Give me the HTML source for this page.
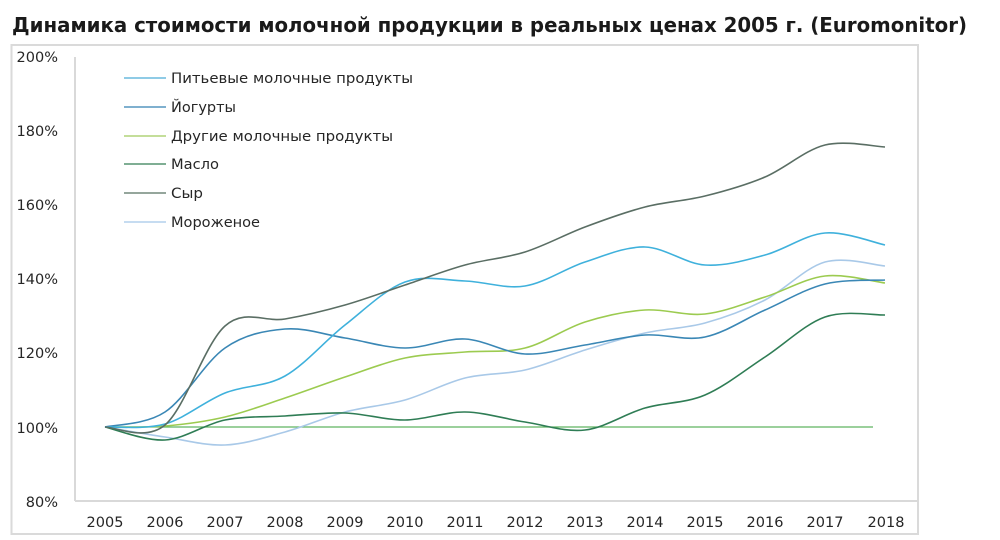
<!DOCTYPE html>
<html>
<head>
<meta charset="utf-8">
<style>
html,body{margin:0;padding:0;background:#fff;}
svg{display:block;}
text{font-family:"DejaVu Sans","Liberation Sans",sans-serif;}
</style>
</head>
<body>
<svg id="c" width="1000" height="540" viewBox="0 0 1000 540" xmlns="http://www.w3.org/2000/svg">
<rect width="1000" height="540" fill="#fff"/>
<text x="12" y="32" font-size="20" font-weight="bold" fill="#1a1a1a" textLength="955" lengthAdjust="spacingAndGlyphs">Динамика стоимости молочной продукции в реальных ценах 2005 г. (Euromonitor)</text>
<rect x="11.5" y="45" width="906.5" height="489" fill="none" stroke="#dadada" stroke-width="2"/>
<line x1="75" y1="57" x2="75" y2="501" stroke="#d9d9d9" stroke-width="2"/>
<line x1="75" y1="501" x2="918" y2="501" stroke="#d9d9d9" stroke-width="2"/>
<g font-size="14.5" fill="#262626" text-anchor="end">
<text x="58" y="62">200%</text>
<text x="58" y="136">180%</text>
<text x="58" y="210">160%</text>
<text x="58" y="284">140%</text>
<text x="58" y="358">120%</text>
<text x="58" y="433">100%</text>
<text x="58" y="507">80%</text>
</g>
<g font-size="14.5" fill="#262626" text-anchor="middle">
<text x="105" y="527">2005</text><text x="165" y="527">2006</text><text x="225" y="527">2007</text><text x="285" y="527">2008</text><text x="345" y="527">2009</text><text x="405" y="527">2010</text><text x="465" y="527">2011</text><text x="525" y="527">2012</text><text x="585" y="527">2013</text><text x="645" y="527">2014</text><text x="705" y="527">2015</text><text x="765" y="527">2016</text><text x="825" y="527">2017</text><text x="886" y="527">2018</text>
</g>
<g stroke-width="2">
<line x1="124" y1="78" x2="166" y2="78" stroke="#8fcbe6"/>
<line x1="124" y1="107" x2="166" y2="107" stroke="#7fb0cf"/>
<line x1="124" y1="136" x2="166" y2="136" stroke="#c4de9a"/>
<line x1="124" y1="164" x2="166" y2="164" stroke="#7fae94"/>
<line x1="124" y1="193" x2="166" y2="193" stroke="#95a69c"/>
<line x1="124" y1="222" x2="166" y2="222" stroke="#c6dcf1"/>
</g>
<g font-size="14" fill="#262626">
<text x="171" y="83" textLength="242" lengthAdjust="spacingAndGlyphs">Питьевые молочные продукты</text>
<text x="171" y="112" textLength="65" lengthAdjust="spacingAndGlyphs">Йогурты</text>
<text x="171" y="141" textLength="222" lengthAdjust="spacingAndGlyphs">Другие молочные продукты</text>
<text x="171" y="169" textLength="48" lengthAdjust="spacingAndGlyphs">Масло</text>
<text x="171" y="198" textLength="32" lengthAdjust="spacingAndGlyphs">Сыр</text>
<text x="171" y="227" textLength="89" lengthAdjust="spacingAndGlyphs">Мороженое</text>
</g>
<line x1="105" y1="427" x2="873" y2="427" stroke="#5fb560" stroke-width="1.3"/>
<g id="series" fill="none" stroke-width="1.6"></g>
</svg>
<script>
(function(){
var data=[
 ["#a9c9e8",[427,437,445,432,412,400,378,370,350,333,323,300,262,266]],
 ["#9ccb50",[427,426,417,398,377,358,352,348,322,310,314,297,276,283]],
 ["#2f7d55",[427,440,420,416,413,420,412,422,430,408,395,357,317,315]],
 ["#3a87b5",[427,412,348,329,338,348,339,354,345,335,337,310,284,280]],
 ["#3fb1dc",[427,424,393,376,325,282,281,286,262,247,265,255,233,245]],
 ["#5a6e64",[427,425,326,319,305,285,265,252,227,207,196,177,145,147]]
];
function X(i){return 105+60*i;}
function path(ys){
 var n=ys.length,d="M"+X(0)+","+ys[0];
 for(var i=0;i<n-1;i++){
  var a=Math.max(i-1,0),b=Math.min(i+2,n-1);
  var c1x=X(i)+(X(i+1)-X(a))/6,c1y=ys[i]+(ys[i+1]-ys[a])/6;
  var c2x=X(i+1)-(X(b)-X(i))/6,c2y=ys[i+1]-(ys[b]-ys[i])/6;
  d+=" C"+c1x.toFixed(2)+","+c1y.toFixed(2)+" "+c2x.toFixed(2)+","+c2y.toFixed(2)+" "+X(i+1)+","+ys[i+1];
 }
 return d;
}
var g=document.getElementById("series");
data.forEach(function(s){
 var p=document.createElementNS("http://www.w3.org/2000/svg","path");
 p.setAttribute("d",path(s[1]));p.setAttribute("stroke",s[0]);
 g.appendChild(p);
});
})();
</script>
</body>
</html>
